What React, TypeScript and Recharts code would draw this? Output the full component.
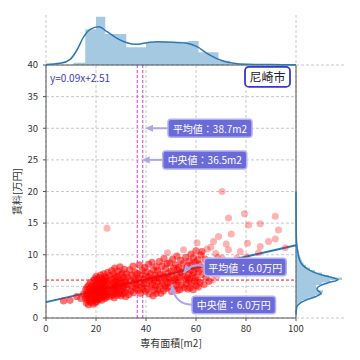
import React from 'react';
import {
  ComposedChart,
  Scatter,
  Line,
  Area,
  XAxis,
  YAxis,
  CartesianGrid,
  ReferenceLine,
  ReferenceDot,
  Label,
} from 'recharts';

const FONT = "'Noto Sans CJK JP', 'Noto Sans', sans-serif";

// axis ticks
const xTicks = [0, 20, 40, 60, 80, 100];
const yTicks = [0, 5, 10, 15, 20, 25, 30, 35, 40];

// summary values
const meanArea = 38.7;
const medianArea = 36.5;
const meanRent = 6.0;
const medianRent = 6.0;
const regression = [
  { x: 0, y: 2.51 },
  { x: 100, y: 11.51 },
];

// scatter points [area, rent], grouped by area range
const ptsUnder16: [number, number][] = [
  [7.0, 2.7], [9.6, 2.8], [12.3, 3.4], [14.0, 3.1], [15.0, 3.8],
];
const pts16to20: [number, number][] = [
  [15.8, 3.2], [15.9, 4.5], [16.1, 2.4], [16.2, 3.7], [16.4, 4.9], [16.5, 2.9], [16.7, 4.1], [16.8, 3.4],
  [17.0, 2.1], [17.1, 5.2], [17.2, 3.9], [17.4, 2.7], [17.5, 4.6], [17.7, 3.3], [17.8, 5.6], [17.9, 4.2],
  [18.1, 2.5], [18.2, 3.8], [18.3, 5.0], [18.5, 3.1], [18.6, 4.4], [18.8, 2.2], [18.9, 5.9], [19.0, 3.6],
  [19.1, 4.8], [19.3, 2.8], [19.4, 4.0], [19.5, 6.2], [19.6, 3.4], [19.7, 5.3], [19.8, 2.4], [19.9, 4.6],
];
const pts20to24: [number, number][] = [
  [20.0, 5.1], [20.0, 3.3], [20.1, 6.6], [20.2, 4.2], [20.3, 2.6], [20.4, 5.7], [20.5, 3.8], [20.6, 4.7],
  [20.7, 6.1], [20.8, 3.0], [20.9, 5.3], [21.0, 4.0], [21.1, 2.9], [21.2, 6.4], [21.3, 4.5], [21.4, 3.5],
  [21.5, 5.5], [21.6, 4.9], [21.7, 3.2], [21.8, 6.8], [21.9, 4.3], [22.0, 5.9], [22.1, 3.7], [22.2, 5.0],
  [22.3, 2.8], [22.4, 4.6], [22.5, 6.2], [22.6, 3.9], [22.7, 5.4], [22.8, 4.1], [22.9, 3.4], [23.0, 6.0],
  [23.0, 4.8], [23.1, 7.0], [23.2, 3.6], [23.3, 5.6], [23.4, 4.4], [23.5, 3.1], [23.5, 6.5], [23.6, 5.2],
  [23.6, 4.0], [23.7, 5.8], [23.7, 3.5],
];
const pts24to28: [number, number][] = [
  [23.9, 4.7], [24.0, 6.3], [24.2, 3.3], [24.4, 5.5], [24.5, 4.2], [24.7, 7.2], [24.9, 3.8], [25.1, 5.9],
  [25.3, 4.6], [25.5, 6.7], [25.6, 3.4], [25.8, 5.1], [26.0, 4.0], [26.2, 6.1], [26.3, 7.5], [26.5, 4.9],
  [26.6, 3.6], [26.8, 5.6], [27.0, 4.4], [27.1, 6.9], [27.3, 3.2], [27.4, 5.3], [27.5, 7.9], [27.6, 4.7],
  [27.7, 6.4], [27.8, 3.9], [27.9, 5.8], [27.9, 5.0],
];
const pts28to32: [number, number][] = [
  [28.1, 4.3], [28.2, 6.6], [28.4, 5.2], [28.5, 3.6], [28.7, 7.4], [28.8, 5.8], [29.0, 4.7], [29.1, 6.2],
  [29.3, 3.9], [29.4, 5.5], [29.6, 8.1], [29.7, 4.9], [29.9, 6.9], [30.0, 3.5], [30.2, 5.9], [30.3, 4.4],
  [30.5, 7.1], [30.7, 5.1], [30.8, 3.8], [31.0, 6.4], [31.1, 4.8], [31.3, 7.7], [31.4, 5.6], [31.6, 4.1],
  [31.7, 6.0], [31.9, 3.4], [32.0, 5.3], [32.1, 7.0],
];
const pts32to40: [number, number][] = [
  [32.4, 4.6], [32.7, 6.5], [33.0, 5.3], [33.2, 3.7], [33.5, 7.6], [33.7, 5.9], [34.0, 4.3], [34.3, 6.8],
  [34.5, 5.0], [34.8, 8.2], [35.0, 4.0], [35.2, 6.2], [35.5, 5.5], [35.7, 7.2], [35.9, 4.7], [36.0, 6.0],
  [36.3, 5.2], [36.5, 7.0], [36.8, 4.4], [37.0, 6.3], [37.3, 8.4], [37.5, 5.6], [37.8, 3.9], [38.0, 6.8],
  [38.3, 5.0], [38.5, 7.5], [38.8, 4.6], [39.0, 6.1], [39.2, 5.4], [39.5, 8.0], [39.7, 4.2], [39.9, 6.6],
];
const pts40to48: [number, number][] = [
  [40.2, 5.5], [40.4, 7.3], [40.6, 4.6], [40.9, 6.5], [41.1, 8.5], [41.3, 3.8], [41.5, 5.9], [41.8, 7.0],
  [42.0, 4.9], [42.2, 6.2], [42.4, 8.8], [42.6, 5.3], [42.8, 3.5], [43.0, 7.6], [43.2, 6.0], [43.4, 4.4],
  [43.6, 6.8], [43.8, 5.1], [44.0, 8.1], [44.1, 3.9], [44.2, 6.4], [44.4, 5.7], [44.6, 7.5], [44.8, 4.5],
  [45.0, 6.3], [45.3, 8.9], [45.5, 5.0], [45.7, 7.0], [45.9, 3.9], [46.1, 6.0], [46.4, 8.2], [46.6, 5.4],
  [46.8, 6.8], [47.0, 4.3], [47.2, 9.4], [47.4, 6.5], [47.6, 5.1], [47.8, 7.8], [48.0, 4.7], [48.2, 6.2],
  [48.4, 8.6], [48.5, 5.6],
];
const pts48to57: [number, number][] = [
  [48.8, 7.1], [49.0, 4.9], [49.2, 6.4], [49.5, 8.7], [49.7, 5.6], [50.0, 7.4], [50.2, 4.2],
  [50.4, 6.8], [50.7, 9.3], [50.9, 5.9], [51.1, 7.9], [51.3, 4.6], [51.6, 6.2], [51.8, 8.4], [52.0, 5.2],
  [52.2, 7.0], [52.4, 9.8], [52.5, 6.0], [52.6, 4.4], [52.7, 7.7], [52.9, 5.6], [53.1, 8.0], [53.4, 6.5],
  [53.6, 4.5], [53.9, 9.1], [54.1, 7.2], [54.3, 5.2], [54.6, 6.7], [54.8, 8.6], [55.2, 4.8],
  [55.4, 7.5], [55.7, 6.1], [55.9, 9.6], [56.1, 5.4], [56.3, 7.9], [56.5, 6.4], [56.7, 4.6], [56.8, 8.3],
  [57.0, 5.9], [57.0, 7.0],
];
const pts57to66: [number, number][] = [
  [57.2, 9.0], [57.4, 6.2], [57.6, 4.8], [57.8, 7.6], [58.0, 10.1], [58.2, 5.5], [58.4, 8.4], [58.6, 6.8],
  [58.8, 4.5], [59.0, 9.5], [59.2, 7.2], [59.4, 5.8], [59.6, 8.8], [59.8, 6.4], [60.0, 10.6], [60.1, 5.1],
  [60.3, 7.8], [60.6, 6.0], [60.7, 9.2], [60.9, 4.9], [61.0, 7.3], [61.3, 8.5], [61.6, 5.6],
  [62.0, 10.0], [62.4, 6.9], [62.4, 10.5], [62.8, 7.9], [63.2, 5.3], [63.6, 9.3], [64.0, 6.4],
  [64.8, 7.5], [65.2, 5.8], [65.5, 9.0],
];
// sparse points away from the main cloud
const ptsSparse: [number, number][] = [
  [24.4, 14.2], [48.6, 10.3], [55.0, 10.8], [60.4, 11.9], [64.4, 10.9], [65.9, 11.2], [66.3, 7.1],
  [66.7, 6.0], [67.0, 12.1], [67.4, 8.4], [67.9, 10.2], [68.3, 6.6], [68.6, 9.6], [69.0, 12.9],
  [70.4, 9.5], [70.4, 20.0], [71.5, 7.4], [72.1, 11.7], [73.0, 10.8], [73.0, 15.8], [74.1, 13.3],
  [75.2, 8.3], [76.4, 9.5], [77.7, 10.5], [79.4, 16.5], [80.3, 9.7], [80.6, 11.8], [81.0, 14.7],
  [85.0, 10.3], [85.7, 14.9], [85.7, 11.3], [89.0, 12.1], [91.7, 16.1], [91.7, 12.5], [93.0, 13.9],
  [95.7, 11.1],
];

// top marginal: area histogram (bin left edge, height) and kde
const areaHist = [
  { x: 11.0, h: 2.3 }, { x: 15.7, h: 35.7 }, { x: 20.0, h: 48.3 }, { x: 23.7, h: 31 },
  { x: 27.9, h: 31 }, { x: 32.1, h: 17.7 }, { x: 36.1, h: 17.7 }, { x: 40.0, h: 23 },
  { x: 44.2, h: 23.5 }, { x: 48.5, h: 23 }, { x: 52.7, h: 23.3 }, { x: 57.0, h: 24 },
  { x: 61.0, h: 12.7 }, { x: 65.0, h: 12.7 }, { x: 69.0, h: 4.3 }, { x: 73.7, h: 0.6 },
  { x: 78.0, h: 0.6 }, { x: 82.0, h: 0.5 }, { x: 86.0, h: 0.5 }, { x: 90.0, h: 0.4 },
  { x: 94.0, h: 0.3 }, { x: 98.0, h: 0 },
];
const areaKde = [
  { x: 0, d: 0.5 }, { x: 5.7, d: 1.7 }, { x: 9.7, d: 5.7 }, { x: 12.4, d: 15 }, { x: 15.1, d: 28.3 },
  { x: 17.7, d: 35.7 }, { x: 21.1, d: 38.3 }, { x: 24.4, d: 33.3 }, { x: 28.4, d: 26.7 },
  { x: 32.4, d: 22.3 }, { x: 35.7, d: 20.7 }, { x: 40.4, d: 22.3 }, { x: 44.4, d: 23.3 },
  { x: 51.0, d: 22.7 }, { x: 56.4, d: 21.7 }, { x: 60.4, d: 18.3 }, { x: 64.4, d: 11.7 },
  { x: 69.7, d: 5 }, { x: 75.0, d: 1.7 }, { x: 80.4, d: 0.7 }, { x: 90, d: 0.4 }, { x: 100, d: 0.3 },
];

// right marginal: rent histogram (bin lower edge, width) and kde
const rentHist = [
  { y: 1.6, w: 0.5 }, { y: 2.0, w: 2.5 }, { y: 2.4, w: 6 }, { y: 2.8, w: 12 }, { y: 3.2, w: 19 },
  { y: 3.6, w: 26 }, { y: 4.0, w: 27 }, { y: 4.4, w: 22 }, { y: 4.8, w: 20 }, { y: 5.2, w: 26 },
  { y: 5.6, w: 34 }, { y: 6.0, w: 46 }, { y: 6.4, w: 33 }, { y: 6.8, w: 26 }, { y: 7.2, w: 19 },
  { y: 7.6, w: 14 }, { y: 8.0, w: 10 }, { y: 8.4, w: 7.5 }, { y: 8.8, w: 6 }, { y: 9.2, w: 5 },
  { y: 9.6, w: 4 }, { y: 10.0, w: 3.2 }, { y: 10.4, w: 2.5 }, { y: 10.8, w: 1.8 }, { y: 11.2, w: 1.2 },
  { y: 11.6, w: 0.8 }, { y: 12.0, w: 0.5 }, { y: 12.4, w: 0.4 }, { y: 16.0, w: 0 },
];
const rentKde = [
  { y: 0.5, w: 0 }, { y: 1.2, w: 0.3 }, { y: 1.8, w: 1 }, { y: 2.4, w: 4.5 }, { y: 2.9, w: 11 },
  { y: 3.4, w: 20 }, { y: 3.9, w: 25 }, { y: 4.3, w: 22 }, { y: 4.7, w: 21 }, { y: 5.2, w: 25.5 },
  { y: 5.6, w: 33 }, { y: 6.05, w: 42 }, { y: 6.4, w: 36 }, { y: 6.8, w: 26 }, { y: 7.3, w: 17 },
  { y: 7.8, w: 11 }, { y: 8.4, w: 6.5 }, { y: 9.0, w: 4 }, { y: 9.6, w: 2.8 }, { y: 10.4, w: 1.8 },
  { y: 11.2, w: 1.1 }, { y: 12.2, w: 0.5 }, { y: 14, w: 0.2 }, { y: 17, w: 0.05 }, { y: 20, w: 0 },
];

const toXY = (pts: [number, number][]) => pts.map(([x, y]) => ({ x, y }));
const cloudPts = toXY([
  ...ptsUnder16, ...pts16to20, ...pts20to24, ...pts24to28, ...pts28to32,
  ...pts32to40, ...pts40to48, ...pts48to57, ...pts57to66,
]);
const sparsePts = toXY(ptsSparse);

const BLUE = '#2a78b5';
const ARROW = '#a9a9ea';
const BOX_FILL = '#6a6ad9';
const BOX_EDGE = '#b0b0f2';
const GRID = '#c8c8c8';
const AXIS = '#555';

const cloudDot = (p: any) => <circle cx={p.cx} cy={p.cy} r={3.6} fill="#ff0000" fillOpacity={0.55} />;
const sparseDot = (p: any) => <circle cx={p.cx} cy={p.cy} r={3.5} fill="#ff0000" fillOpacity={0.3} />;

function head(tx: number, ty: number, fx: number, fy: number) {
  const a = Math.atan2(ty - fy, tx - fx);
  const L = 8;
  const W = 3.6;
  const bx = tx - L * Math.cos(a);
  const by = ty - L * Math.sin(a);
  const px = -Math.sin(a) * W;
  const py = Math.cos(a) * W;
  return `${tx},${ty} ${bx + px},${by + py} ${bx - px},${by - py}`;
}

function Box({ x, y, w, h, text }: { x: number; y: number; w: number; h: number; text: string }) {
  return (
    <g>
      <rect x={x} y={y} width={w} height={h} rx={3} fill={BOX_FILL} stroke={BOX_EDGE} strokeWidth={1.5} />
      <text x={x + w / 2} y={y + h / 2} textAnchor="middle" dominantBaseline="central" fill="#fff" fontSize={10} fontFamily={FONT}>
        {text}
      </text>
    </g>
  );
}

// straight arrow pointing left to the tip, box to the right
const straightCallout = (text: string, gap: number, w: number) => (p: any) => {
  const { cx, cy } = p;
  return (
    <g>
      <line x1={cx + gap} y1={cy} x2={cx + 6} y2={cy} stroke={ARROW} strokeWidth={2} />
      <polygon points={head(cx, cy, cx + 10, cy)} fill={ARROW} />
      <Box x={cx + gap} y={cy - 9} w={w} h={18} text={text} />
    </g>
  );
};

// curved arrow: start (sx,sy) and control (qx,qy) relative to the tip
const curvedCallout =
  (text: string, sx: number, sy: number, qx: number, qy: number, bx: number, by: number, w: number) => (p: any) => {
    const { cx, cy } = p;
    return (
      <g>
        <path d={`M${cx + sx},${cy + sy} Q${cx + qx},${cy + qy} ${cx},${cy}`} fill="none" stroke={ARROW} strokeWidth={2} />
        <polygon points={head(cx, cy, cx + qx, cy + qy)} fill={ARROW} />
        <Box x={cx + bx} y={cy + by} w={w} h={17.5} text={text} />
      </g>
    );
  };

const cityBox = (p: any) => (
  <g>
    <rect x={p.cx - 45} y={p.cy} width={45} height={20} rx={4} fill="#fff" stroke="#3434d6" strokeWidth={1.8} />
    <text x={p.cx - 22.5} y={p.cy + 10} textAnchor="middle" dominantBaseline="central" fill="#222" fontSize={12} fontFamily={FONT}>
      尼崎市
    </text>
  </g>
);

const eqText = (p: any) => (
  <text x={p.cx} y={p.cy} fill="#3c3cc8" fontSize={10} fontFamily={FONT}>
    y=0.09x+2.51
  </text>
);

const tickStyle = { fill: '#333', fontSize: 9.5, fontFamily: FONT };

export default function App() {
  return (
    <div style={{ position: 'absolute', left: 0, top: 0, width: 360, height: 360, background: '#fff', fontFamily: FONT }}>
      <div style={{ position: 'absolute', left: 0, top: 0 }}>
        <ComposedChart width={360} height={360} margin={{ top: 65, right: 60, bottom: 8, left: 16 }}>
          <CartesianGrid stroke={GRID} strokeDasharray="3 2" />
          <XAxis
            dataKey="x"
            type="number"
            domain={[0, 100]}
            ticks={xTicks}
            height={34}
            tickSize={3}
            tickMargin={4}
            stroke={AXIS}
            tick={tickStyle}
          >
            <Label value="専有面積[m2]" position="insideBottom" offset={5} style={{ fill: '#333', fontSize: 10, fontFamily: FONT }} />
          </XAxis>
          <XAxis
            xAxisId="t"
            orientation="top"
            type="number"
            domain={[0, 100]}
            ticks={xTicks}
            mirror
            tickSize={3}
            tickFormatter={() => ''}
            stroke={AXIS}
          />
          <YAxis
            dataKey="y"
            type="number"
            domain={[0, 40]}
            ticks={yTicks}
            width={30}
            tickSize={3}
            tickMargin={5}
            stroke={AXIS}
            tick={tickStyle}
          >
            <Label
              value="賃料[万円]"
              angle={-90}
              position="insideLeft"
              offset={1.5}
              style={{ textAnchor: 'middle', fill: '#333', fontSize: 10, fontFamily: FONT }}
            />
          </YAxis>
          <YAxis
            yAxisId="r"
            orientation="right"
            type="number"
            domain={[0, 40]}
            ticks={yTicks}
            width={4}
            tickSize={3}
            tickFormatter={() => ''}
            stroke={AXIS}
          />
          <Scatter data={sparsePts} shape={sparseDot} isAnimationActive={false} />
          <Scatter data={cloudPts} shape={cloudDot} isAnimationActive={false} />
          <Line data={regression} dataKey="y" type="linear" stroke={BLUE} strokeWidth={2} dot={false} isAnimationActive={false} />
          <ReferenceLine x={medianArea} stroke="#e030e0" strokeDasharray="3 2" />
          <ReferenceLine x={meanArea} stroke="#e030e0" strokeDasharray="3 2" />
          <ReferenceLine y={meanRent} stroke="#ff1010" strokeDasharray="3 2" />
          <ReferenceDot x={1.6} y={37.3} shape={eqText} />
          <ReferenceDot x={97.6} y={39.7} shape={cityBox} />
          <ReferenceDot x={39.6} y={30} shape={straightCallout(`平均値：${meanArea.toFixed(1)}m2`, 23, 84)} />
          <ReferenceDot x={38.3} y={25} shape={straightCallout(`中央値：${medianArea.toFixed(1)}m2`, 21, 84)} />
          <ReferenceDot
            x={55.0}
            y={7.1}
            shape={curvedCallout(`平均値：${meanRent.toFixed(1)}万円`, 20.7, -6.3, 8.7, -11.3, 20.7, -14.8, 82)}
          />
          <ReferenceDot
            x={50.4}
            y={5.26}
            shape={curvedCallout(`中央値：${medianRent.toFixed(1)}万円`, 20, 20, 2.3, 20, 20, 11.5, 83.5)}
          />
        </ComposedChart>
      </div>

      {/* top marginal: area distribution */}
      <div style={{ position: 'absolute', left: 0, top: 0 }}>
        <ComposedChart width={360} height={66} margin={{ top: 15, right: 64, bottom: 1, left: 46 }}>
          <CartesianGrid horizontal={false} stroke={GRID} strokeDasharray="3 2" />
          <XAxis dataKey="x" type="number" domain={[0, 100]} ticks={xTicks} mirror tick={false} axisLine={false} tickLine={false} />
          <YAxis type="number" domain={[0, 50]} hide />
          <Area data={areaHist} dataKey="h" type="stepAfter" fill="#1f77b4" fillOpacity={0.4} stroke="none" isAnimationActive={false} />
          <Line data={areaKde} dataKey="d" type="monotone" stroke={BLUE} strokeWidth={1.5} dot={false} isAnimationActive={false} />
        </ComposedChart>
      </div>

      {/* right marginal: rent distribution */}
      <div style={{ position: 'absolute', left: 0, top: 0 }}>
        <ComposedChart layout="vertical" width={360} height={360} margin={{ top: 65, right: 15, bottom: 42, left: 296 }}>
          <CartesianGrid vertical={false} stroke={GRID} strokeDasharray="3 2" />
          <XAxis type="number" domain={[0, 49]} hide />
          <YAxis
            dataKey="y"
            type="number"
            domain={[0, 40]}
            ticks={yTicks}
            reversed
            mirror
            tick={false}
            axisLine={false}
            tickLine={false}
          />
          <Area data={rentHist} dataKey="w" type="stepBefore" fill="#1f77b4" fillOpacity={0.4} stroke="none" isAnimationActive={false} />
          <Line data={rentKde} dataKey="w" type="monotone" stroke={BLUE} strokeWidth={1.5} dot={false} isAnimationActive={false} />
        </ComposedChart>
      </div>
    </div>
  );
}
